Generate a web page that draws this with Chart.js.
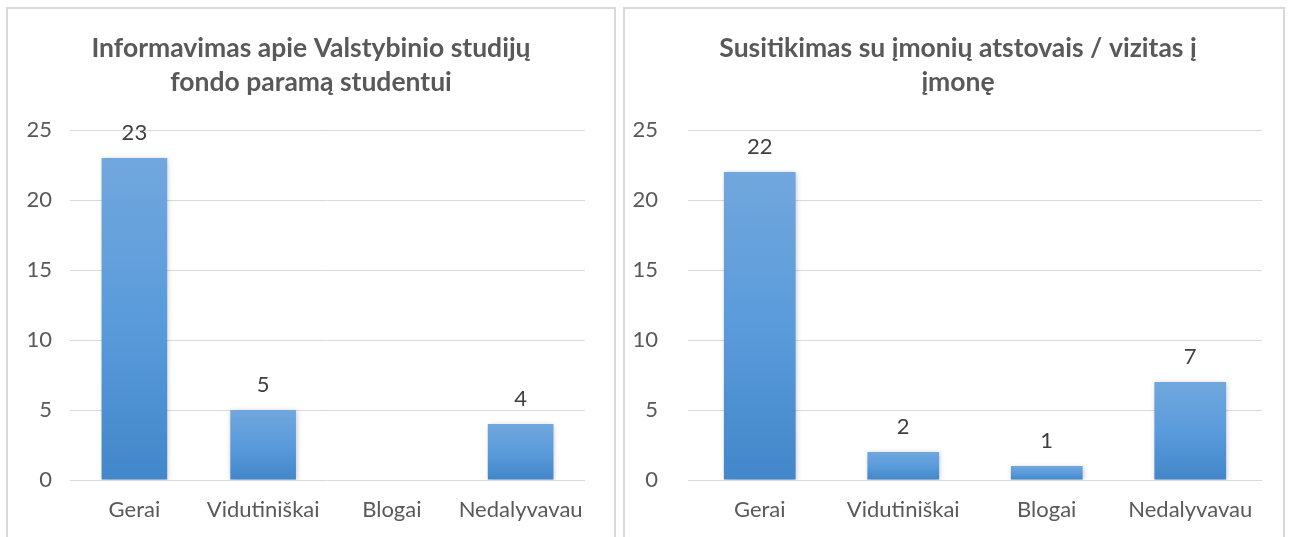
<!DOCTYPE html>
<html>
<head>
<meta charset="utf-8">
<script src="https://cdn.jsdelivr.net/npm/chart.js@4"></script>
<style>
  body { margin: 0; background: #fff; width: 1291px; height: 537px; overflow: hidden; position: relative; }
  .box { position: absolute; border: 2px solid #d9d9d9; background: #fff; }
  #boxLeft { left: 6px; top: 7px; width: 606px; height: 540px; }
  #boxRight { left: 623px; top: 7px; width: 658px; height: 540px; }
  canvas { display: block; }
</style>
</head>
<body>
<div class="box" id="boxLeft"><canvas id="chartLeft" width="606" height="528"></canvas></div>
<div class="box" id="boxRight"><canvas id="chartRight" width="658" height="528"></canvas></div>
<script>
const categories = ['Gerai', 'Vidutiniškai', 'Blogai', 'Nedalyvavau'];
const valuesInformavimas = [23, 5, 0, 4];
const valuesSusitikimas = [22, 2, 1, 7];
const titleInformavimas = ['Informavimas apie Valstybinio studijų', 'fondo paramą studentui'];
const titleSusitikimas = ['Susitikimas su įmonių atstovais / vizitas į', 'įmonę'];
const yMax = 25;
const yStep = 5;

const FONT = 'Lato, "Open Sans", sans-serif';

// gradient per bar, light on top, darker at the base
function barFill(ctx) {
    const chart = ctx.chart;
    const y = chart.scales.y;
    if (ctx.type !== 'data' || !y) return '#5b9bd5';
    const top = y.getPixelForValue(ctx.raw);
    const bottom = y.getPixelForValue(0);
    if (!isFinite(top) || bottom - top < 1) return '#5b9bd5';
    const g = chart.ctx.createLinearGradient(0, top, 0, bottom);
    g.addColorStop(0, '#71a7dd');
    g.addColorStop(0.5, '#5a9bdb');
    g.addColorStop(1, '#4287ca');
    return g;
}

const barShadow = {
    id: 'barShadow',
    beforeDatasetDraw(chart) {
        const c = chart.ctx;
        c.save();
        c.shadowColor = 'rgba(0,0,0,0.22)';
        c.shadowBlur = 5;
        c.shadowOffsetX = 1;
        c.shadowOffsetY = 1;
    },
    afterDatasetDraw(chart) {
        chart.ctx.restore();
    }
};

const valueLabels = {
    id: 'valueLabels',
    afterDatasetsDraw(chart) {
        const c = chart.ctx;
        const meta = chart.getDatasetMeta(0);
        const data = chart.data.datasets[0].data;
        c.save();
        c.font = '22px ' + FONT;
        c.fillStyle = '#404040';
        c.textAlign = 'center';
        c.textBaseline = 'middle';
        meta.data.forEach((bar, i) => {
            if (!data[i]) return;
            c.fillText(String(data[i]), bar.x, bar.y - 25);
        });
        c.restore();
    }
};

// title centred on the whole canvas, not on the padded layout box
const centredTitle = {
    id: 'centredTitle',
    afterDraw(chart, args, opts) {
        const c = chart.ctx;
        c.save();
        c.font = 'bold 26.5px ' + FONT;
        c.fillStyle = '#595959';
        c.textAlign = 'center';
        c.textBaseline = 'middle';
        opts.lines.forEach((line, i) => {
            c.fillText(line, chart.width / 2 + opts.dx, 39 + i * 34);
        });
        c.restore();
    }
};

function makeChart(id, values, title, opts) {
    const ctx = document.getElementById(id).getContext('2d');
    return new Chart(ctx, {
        type: 'bar',
        data: {
            labels: categories,
            datasets: [{
                data: values,
                backgroundColor: barFill,
                borderWidth: 0,
                categoryPercentage: 1,
                barPercentage: opts.barPct
            }]
        },
        options: {
            responsive: false,
            animation: false,
            layout: { padding: { left: 0, right: opts.padRight, top: 121, bottom: 0 } },
            plugins: {
                legend: { display: false },
                tooltip: { enabled: false },
                title: { display: false },
                centredTitle: { lines: title, dx: opts.titleDx }
            },
            scales: {
                x: {
                    grid: { display: false },
                    border: { display: false },
                    ticks: { color: '#595959', font: { family: FONT, size: 22 }, padding: 9, maxRotation: 0, autoSkip: false },
                    afterFit: (s) => { s.height = 57; }
                },
                y: {
                    min: 0,
                    max: yMax,
                    ticks: { stepSize: yStep, color: '#595959', font: { family: FONT, size: 22 }, padding: opts.yPad },
                    grid: { color: '#d9d9d9', lineWidth: 1, drawTicks: false },
                    border: { display: false },
                    afterFit: (s) => { s.width = opts.yWidth; }
                }
            }
        },
        plugins: [barShadow, valueLabels, centredTitle]
    });
}

makeChart('chartLeft', valuesInformavimas, titleInformavimas, { barPct: 0.51, padRight: 29, yWidth: 62, yPad: 18, titleDx: 0 });
makeChart('chartRight', valuesSusitikimas, titleSusitikimas, { barPct: 0.5, padRight: 21, yWidth: 63, yPad: 30, titleDx: 4 });
</script>
</body>
</html>
